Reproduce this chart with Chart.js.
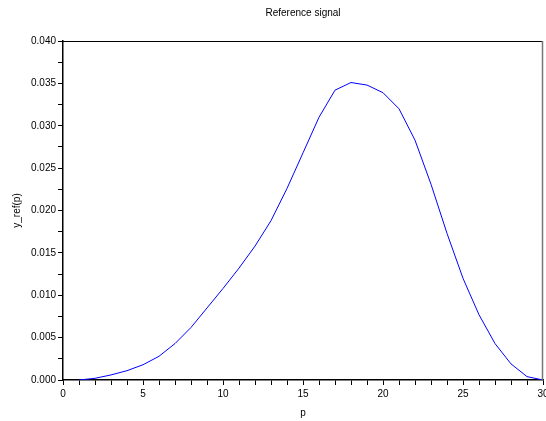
<!DOCTYPE html>
<html>
<head>
<meta charset="utf-8">
<script src="https://cdn.jsdelivr.net/npm/chart.js@4"></script>
<style>
html,body{margin:0;padding:0;background:#fff;}
#wrap{width:546px;height:421px;}
</style>
</head>
<body>
<div id="wrap"><canvas id="c" width="546" height="421"></canvas></div>
<script>
const p = [1,2,3,4,5,6,7,8,9,10,11,12,13,14,15,16,17,18,19,20,21,22,23,24,25,26,27,28,29,30];
const yRef = [0.0000,0.0002,0.0006,0.0011,0.0018,0.0028,0.0043,0.0062,0.0085,0.0108,0.0132,0.0158,0.0188,0.0226,0.0268,0.0310,0.0342,0.0351,0.0348,0.0339,0.0320,0.0283,0.0231,0.0173,0.0120,0.0077,0.0043,0.0019,0.0004,0.0000];
const titleText = 'Reference signal';
const xLabel = 'p';
const yLabel = 'y_ref(p)';

const FONT = 'Liberation Sans, Arial, Helvetica, sans-serif';

const frame = {
  id: 'frame',
  afterDraw(chart){
    const a = chart.chartArea, ctx = chart.ctx;
    ctx.save();
    ctx.strokeStyle = '#000';
    ctx.lineWidth = 1;
    ctx.beginPath();
    ctx.moveTo(a.left, a.top + 0.5);
    ctx.lineTo(a.right, a.top + 0.5);
    ctx.stroke();
    ctx.strokeStyle = '#777';
    ctx.lineWidth = 1.5;
    ctx.beginPath();
    ctx.moveTo(a.right - 0.5, a.top);
    ctx.lineTo(a.right - 0.5, a.bottom);
    ctx.stroke();
    ctx.restore();
  }
};

new Chart(document.getElementById('c'), {
  type: 'line',
  data: {
    datasets: [{
      data: p.map((v,i)=>({x:v, y:yRef[i]})),
      borderColor: '#0000ff',
      borderWidth: 1,
      pointRadius: 0,
      tension: 0,
      fill: false
    }]
  },
  options: {
    responsive: false,
    animation: false,
    devicePixelRatio: 1,
    layout: { padding: { left: 11, right: 3, top: 0, bottom: 2 } },
    plugins: {
      legend: { display: false },
      tooltip: { enabled: false },
      title: {
        display: true,
        fullSize: false,
        text: titleText,
        color: '#000',
        font: { family: FONT, size: 10, weight: 'normal' },
        padding: { top: 7, bottom: 22 }
      }
    },
    scales: {
      x: {
        type: 'linear',
        min: 0, max: 30,
        afterFit(s){ s.paddingRight = 0; s.paddingLeft = 0; },
        ticks: {
          stepSize: 1,
          autoSkip: false,
          maxRotation: 0,
          color: '#000',
          font: { family: FONT, size: 10 },
          padding: 3,
          callback: (v) => (Math.round(v) % 5 === 0 ? String(Math.round(v)) : '')
        },
        grid: { drawOnChartArea: false, drawTicks: true, tickLength: 5, color: '#000' },
        border: { color: '#000', width: 1.5 },
        title: { display: true, text: xLabel, color: '#000', font: { family: FONT, size: 10 }, padding: { top: 4, bottom: 0 } }
      },
      y: {
        type: 'linear',
        min: 0, max: 0.04,
        afterFit(s){ s.paddingTop = 0; s.paddingBottom = 0; },
        ticks: {
          stepSize: 0.0025,
          autoSkip: false,
          color: '#000',
          font: { family: FONT, size: 10 },
          padding: 2,
          callback: (v) => (Math.round(v / 0.0025) % 2 === 0 ? v.toFixed(3) : '')
        },
        grid: { drawOnChartArea: false, drawTicks: true, tickLength: 5, color: '#000' },
        border: { color: '#000', width: 1.5 },
        title: { display: true, text: yLabel, color: '#000', font: { family: FONT, size: 10 }, padding: { top: 0, bottom: 6 } }
      }
    }
  },
  plugins: [frame]
});
</script>
</body>
</html>
